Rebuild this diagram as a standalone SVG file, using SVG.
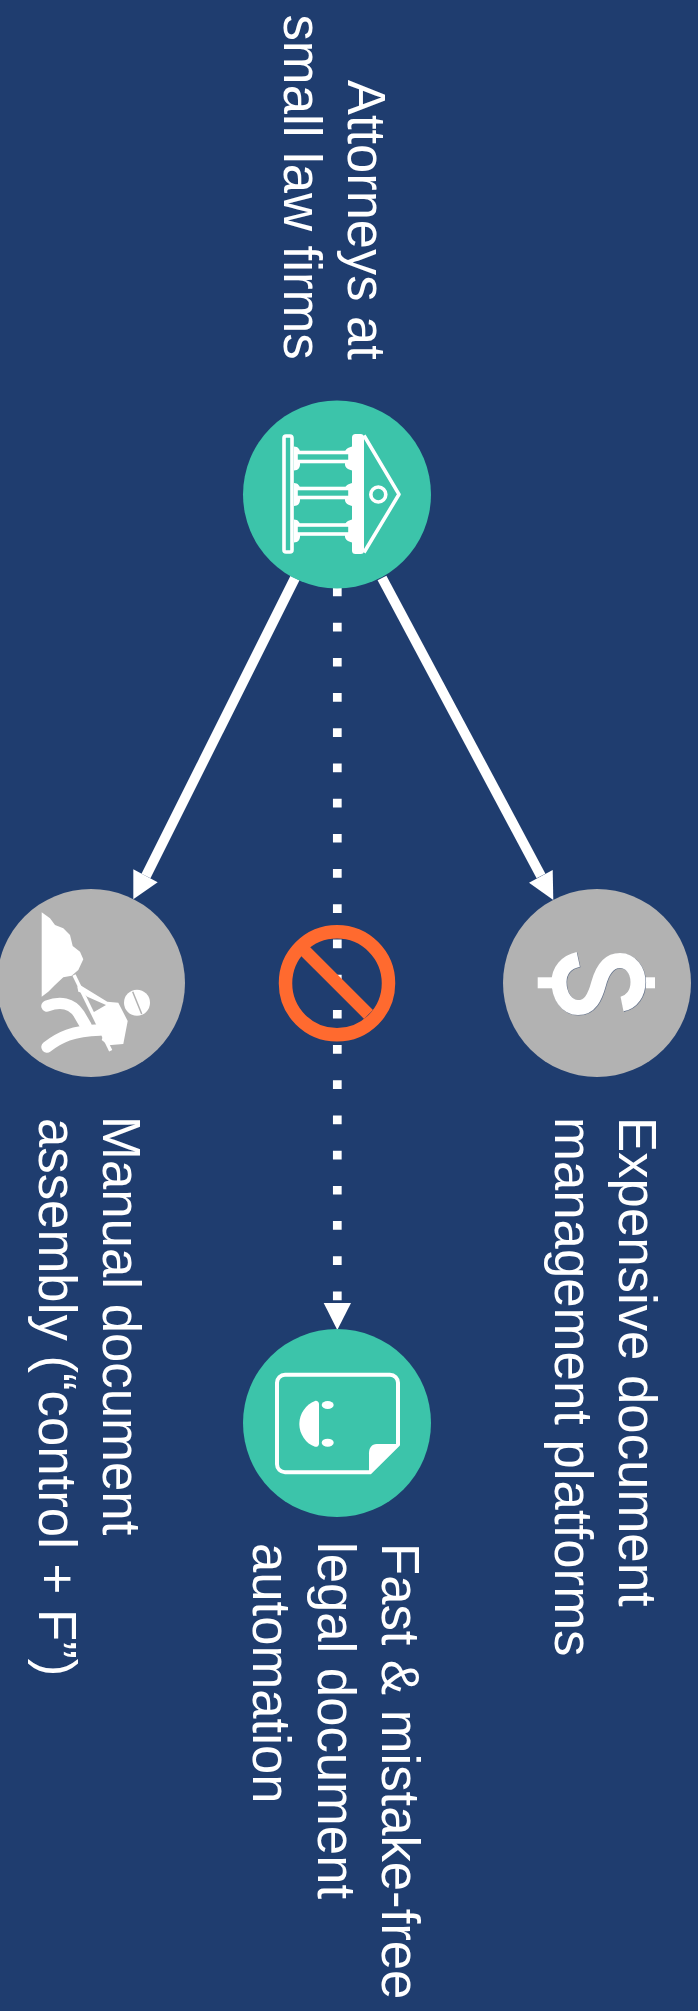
<svg xmlns="http://www.w3.org/2000/svg" width="698" height="2011" viewBox="0 0 698 2011">
<defs>
<style>
.lbl{font-family:"Liberation Sans",Arial,sans-serif;font-size:54.5px;fill:#fff}
.teal{fill:#3cc4aa}
.grey{fill:#b2b2b2}
.w{fill:#fff}
.ws{fill:none;stroke:#fff;stroke-width:3.6;stroke-linejoin:round}
.col{fill:#3cc4aa;stroke:#fff;stroke-width:3.6}
.conn{stroke:#fff;stroke-width:10;fill:none}
.leg{fill:none;stroke:#fff;stroke-width:11.500;stroke-linecap:round}
</style>
</defs>
<rect width="698" height="2011" fill="#1f3d6f"/>
<g id="connectors">
<path class="conn" d="M295 578L146 876"/>
<polygon class="w" points="133.300,869.300 157.700,882.300 133.300,899.300"/>
<path class="conn" d="M382 578L541 876"/>
<polygon class="w" points="529,882.700 552.700,870 553.300,900"/>
<path d="M337.300 587.500V1308" stroke="#fff" stroke-width="8.700" fill="none" stroke-dasharray="8.700 26.500"/>
<polygon class="w" points="323.700,1303 351,1303 337.300,1330"/>
</g>
<g id="node-attorneys">
<circle class="teal" cx="337" cy="494.500" r="94"/>
<rect class="ws" x="284" y="436" width="8" height="116" rx="2"/>
<path class="w" d="M294 446.500c4 0 6 3 6 6v12c0 3-2 6-6 6zM294 483c4 0 6 3 6 6v11c0 3-2 6-6 6zM294 519.500c4 0 6 3 6 6v11c0 3-2 6-6 6zM352 446.500c-4 1-7 3-7 6v12c0 3 3 5 7 6zM352 483c-4 1-7 3-7 6v11c0 3 3 5 7 6zM352 519.500c-4 1-7 3-7 6v11c0 3 3 5 7 6z"/>
<rect class="col" x="296" y="452.500" width="54" height="9"/>
<rect class="col" x="296" y="488.500" width="54" height="9"/>
<rect class="col" x="296" y="525" width="54" height="9"/>
<rect class="w" x="352" y="434" width="12" height="120" rx="3.500"/>
<path class="ws" d="M364 435.500L399 494.300L364 552.500"/>
<circle class="ws" cx="378.300" cy="494.500" r="7.500"/>
</g>
<g id="node-manual">
<circle class="grey" cx="91" cy="983" r="94"/>
<polygon class="w" points="41.700,912.300 50,918.300 55,925 63.300,928.300 70,935 72.700,946 80,951.700 83.300,959.300 78.300,970 71.700,975.700 63.300,977.300 55,985 48.300,991.700 41.700,996.700"/>
<path d="M74 975L110.700 1050.700" stroke="#fff" stroke-width="3.500" fill="none"/>
<polygon class="w" points="77.300,986.700 80,985 107.300,1001.700 118.300,1002.700 127.700,1021 123.300,1044 108.300,1045.300 101.700,1040 104,1033.300 92.700,1012.700 106,1005 87.300,996.700 83.300,993.300 78.300,991.700"/>
<circle class="w" cx="137" cy="1002.700" r="13"/>
<path d="M132.700 991.700L141.700 1014" stroke="#b2b2b2" stroke-width="1.500" fill="none"/>
<path class="leg" d="M47 1006C60 1001 72 1003 79 1014L86 1026"/>
<path class="leg" d="M47 1047C60 1037 72 1031 100 1030"/>
</g>
<g id="node-expensive">
<circle class="grey" cx="597" cy="983" r="94"/>
<rect class="w" x="537.700" y="977.300" width="16" height="11"/>
<rect class="w" x="640" y="977.300" width="15" height="11"/>
<path fill="none" stroke="#66748c" stroke-width="15" transform="translate(.6 .6)" d="M578.300 959.300C566 962 559 971 559 982C559 996 567 1007.500 578 1007.500C590 1007.500 595 997 598.500 984C602 971 608 960.500 620 960.500C631 960.500 638 971 638 982C638 993 632 1002 622 1004"/>
<path fill="none" stroke="#fff" stroke-width="15" d="M578.300 959.300C566 962 559 971 559 982C559 996 567 1007.500 578 1007.500C590 1007.500 595 997 598.500 984C602 971 608 960.500 620 960.500C631 960.500 638 971 638 982C638 993 632 1002 622 1004"/>
</g>
<g id="node-automation">
<circle class="teal" cx="337" cy="1423" r="94"/>
<path class="ws" d="M285 1374.700h105a8 8 0 0 1 8 8v62l-28 27.600h-85a8 8 0 0 1-8-8v-81.600a8 8 0 0 1 8-8z" style="stroke-width:4"/>
<path class="w" d="M399.300 1444h-22.600c-5 0-7.700 4-7.700 9.300v20z"/>
<path class="w" d="M315 1401c-9 3-15.700 13-15.700 23s6.700 20 15.700 22.700c2 .6 4-1 4-3v-39.700c0-2-2-3.600-4-3z"/>
<ellipse class="w" cx="327.700" cy="1405" rx="6" ry="4"/>
<ellipse class="w" cx="327.700" cy="1442.700" rx="6" ry="4"/>
</g>
<g id="prohibition">
<circle cx="337" cy="983.300" r="51.500" fill="none" stroke="#ff6a2f" stroke-width="13.500"/>
<path d="M305 951L368.500 1014.500" stroke="#ff6a2f" stroke-width="12.500"/>
</g>
<g id="labels">
<text class="lbl" transform="translate(348.300 80) rotate(90) scale(.962 1)">Attorneys at</text>
<text class="lbl" transform="translate(284 14.500) rotate(90) scale(.966 1)">small law firms</text>
<text class="lbl" transform="translate(103 1116) rotate(90) scale(.968 1)">Manual document</text>
<text class="lbl" transform="translate(38.700 1118) rotate(90) scale(.968 1)">assembly (“control + F”)</text>
<text class="lbl" transform="translate(619 1117) rotate(90) scale(.968 1)">Expensive document</text>
<text class="lbl" transform="translate(555 1117) rotate(90) scale(.968 1)">management platforms</text>
<text class="lbl" transform="translate(381.700 1543) rotate(90) scale(.966 1)">Fast &amp; mistake-free</text>
<text class="lbl" transform="translate(317.700 1542) rotate(90) scale(.966 1)">legal document</text>
<text class="lbl" transform="translate(253 1543) rotate(90) scale(.966 1)">automation</text>
</g>
</svg>
